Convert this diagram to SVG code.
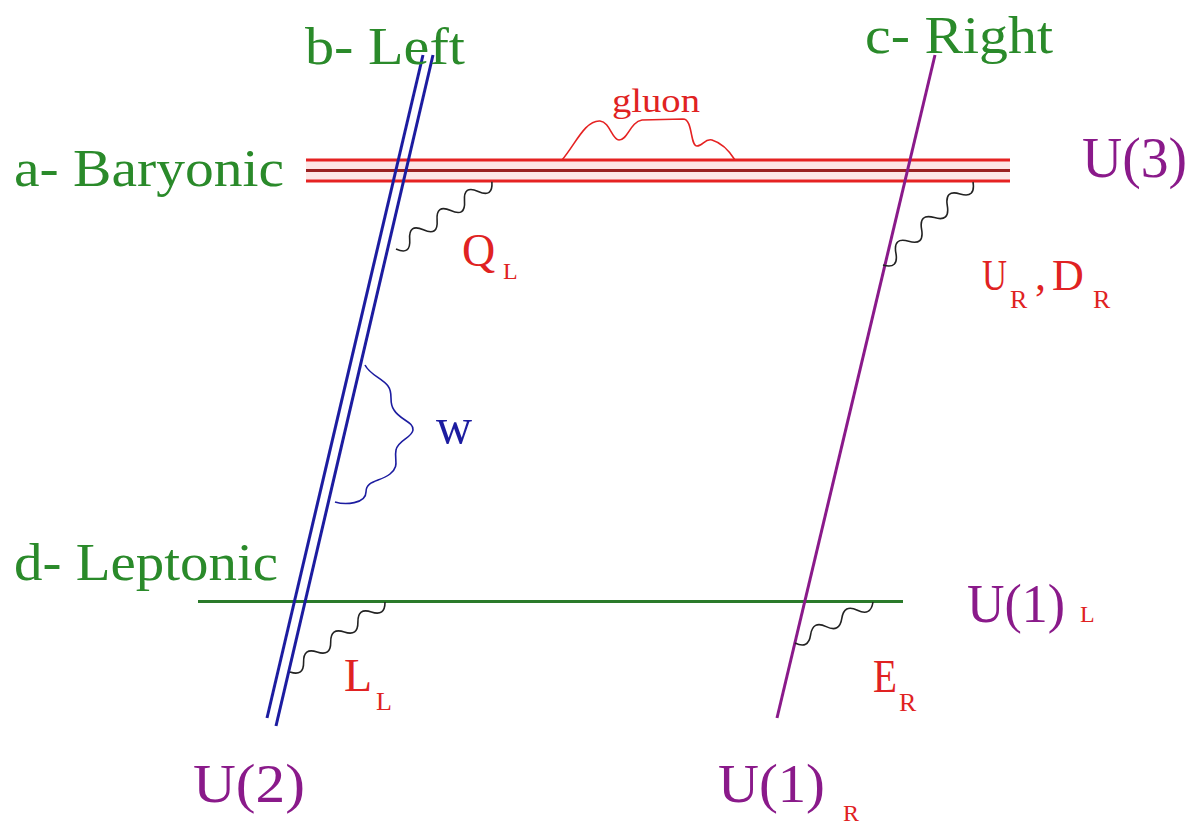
<svg xmlns="http://www.w3.org/2000/svg" width="1199" height="827" viewBox="0 0 1199 827">
<style>
text{font-family:"Liberation Serif","Times New Roman",serif}
.grn{fill:#2a8a2a;font-size:52px}
.pur{fill:#8a1a8a}
.red{fill:#e02222}
.rl{stroke:#e52222;stroke-width:3;fill:none}
.rm{stroke:#9a2020;stroke-width:3;fill:none}
.bl{stroke:#1c1ca0;stroke-width:3;fill:none}
.pl{stroke:#8a1a8a;stroke-width:3;fill:none}
.gl{stroke:#2a7a2a;stroke-width:3;fill:none}
.wv{stroke:#222;stroke-width:1.6;fill:none}
</style>
<rect width="1199" height="827" fill="#fff"/>
<g id="baryonic">
<rect x="306" y="160" width="704" height="21" fill="#fde6e6"/>
<line class="rl" x1="306" y1="160" x2="1010" y2="160"/>
<line class="rm" x1="306" y1="170.5" x2="1010" y2="170.5"/>
<line class="rl" x1="306" y1="181" x2="1010" y2="181"/>
<text class="grn" x="14" y="186" textLength="270" lengthAdjust="spacingAndGlyphs">a- Baryonic</text>
<text class="pur" x="1082" y="177" font-size="58" textLength="105" lengthAdjust="spacingAndGlyphs">U(3)</text>
</g>
<g id="leptonic">
<line class="gl" x1="198" y1="601.5" x2="903" y2="601.5"/>
<text class="grn" x="14" y="580" textLength="264" lengthAdjust="spacingAndGlyphs">d- Leptonic</text>
<text class="pur" x="967" y="622" font-size="54" textLength="98" lengthAdjust="spacingAndGlyphs">U(1)</text>
<text class="red" x="1080" y="622" font-size="24">L</text>
</g>
<g id="left">
<line class="bl" x1="423" y1="55" x2="267" y2="718"/>
<line class="bl" x1="433" y1="55" x2="276" y2="726"/>
<text class="grn" x="305" y="64" textLength="160" lengthAdjust="spacingAndGlyphs">b- Left</text>
<text class="pur" x="193" y="802" font-size="54" textLength="112" lengthAdjust="spacingAndGlyphs">U(2)</text>
</g>
<g id="right">
<line class="pl" x1="935" y1="55" x2="777" y2="718"/>
<text class="grn" x="865" y="53" textLength="188" lengthAdjust="spacingAndGlyphs">c- Right</text>
<text class="pur" x="718" y="802" font-size="54" textLength="107" lengthAdjust="spacingAndGlyphs">U(1)</text>
<text class="red" x="843" y="821" font-size="24">R</text>
</g>
<g id="connectors">
<path id="gluon" d="M562,160 C575,145 585,120 600,121 C610,122 612,140 619,140 C628,140 630,122 642,120 L683,119 C693,119 690,146 697,146 C703,146 705,138 712,140 C722,143 730,152 735,160" stroke="#e52222" stroke-width="1.6" fill="none"/>
<path id="qL" class="wv" d="M396,249 Q410.9,255.7 409.7,239.4 T423.4,229.8 T437.1,220.2 T450.8,210.6 T464.5,201 T478.2,191.4 T491.9,181.8"/>
<path id="uRdR" class="wv" d="M883,265 Q898.9,269.4 895.9,253.1 T908.7,241.3 T921.6,229.4 T934.4,217.6 T947.3,205.7 T960.1,193.9 T973,182"/>
<path id="lL" class="wv" d="M290,672 Q303.9,676.7 303.6,662 T317.1,652 T330.7,642 T344.3,632 T357.9,622 T371.4,612 T385,602"/>
<path id="eR" class="wv" d="M795,643 Q808.4,649.5 810.6,634.8 T826.2,626.6 T841.8,618.4 T857.4,610.2 T873,602"/>
<path id="w" d="M365,365 C370,375 382,378 388,386 C394,394 388,402 394,410 C400,420 414,422 413,430 C412,438 398,440 396,450 C394,460 400,466 390,474 C380,482 366,480 366,492 C366,504 345,505 335,502" stroke="#1c1ca0" stroke-width="1.6" fill="none"/>
</g>
<g id="labels">
<text class="red" x="612" y="112" font-size="34" textLength="88" lengthAdjust="spacingAndGlyphs">gluon</text>
<text class="red" x="462" y="266" font-size="46">Q</text>
<text class="red" x="503" y="279" font-size="24">L</text>
<text class="red" x="982" y="290" font-size="44" textLength="25" lengthAdjust="spacingAndGlyphs">U</text>
<text class="red" x="1010" y="308" font-size="26">R</text>
<text class="red" x="1035" y="290" font-size="44">,</text>
<text class="red" x="1052" y="290" font-size="44">D</text>
<text class="red" x="1093" y="308" font-size="26">R</text>
<text fill="#1c1ca0" x="436" y="443" font-size="50">w</text>
<text class="red" x="344" y="691" font-size="46">L</text>
<text class="red" x="376" y="710" font-size="26">L</text>
<text class="red" x="873" y="692" font-size="46" textLength="24" lengthAdjust="spacingAndGlyphs">E</text>
<text class="red" x="899" y="711" font-size="26">R</text>
</g>
</svg>
